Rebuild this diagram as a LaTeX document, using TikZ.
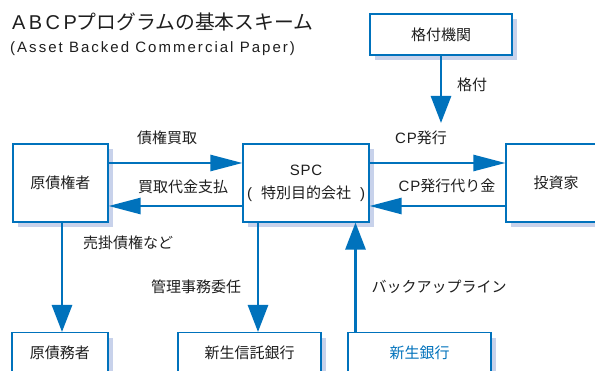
\documentclass[tikz,border=0pt]{standalone}
\usepackage{fontspec}
\setmainfont{Noto Sans CJK JP}
\newfontfamily\latA[LetterSpace=5]{Liberation Sans}
\newfontfamily\latT[LetterSpace=17]{Liberation Sans}
\newfontfamily\latS[LetterSpace=13.5]{Liberation Sans}
\usetikzlibrary{arrows.meta,shadows}
\definecolor{bl}{RGB}{0,114,188}
\definecolor{sh}{RGB}{200,210,235}
\definecolor{tx}{RGB}{30,30,30}
\begin{document}
\begin{tikzpicture}[x=1pt,y=-1pt,
 box/.style={draw=bl,line width=1.1pt,fill=white,inner sep=0pt,text=tx,font=\fontsize{15}{23}\selectfont,general shadow={fill=sh,shadow xshift=5pt,shadow yshift=-5pt}},
 lbl/.style={inner sep=0pt,text=tx,font=\fontsize{15}{18}\selectfont},
 harr/.style={draw=bl,line width=2.5pt,-{Triangle[length=32pt,width=16pt]}},
 varr/.style={draw=bl,line width=2.8pt,-{Triangle[length=27pt,width=20pt]}}]
\useasboundingbox (0,0) rectangle (595,371);
% title
\node[anchor=west,inner sep=0pt,text=tx,font=\fontsize{19.8}{22}\selectfont] (title) at (12,22) {{\fontsize{20}{22}\selectfont\latT ABCP}プログラムの基本スキーム};
\node[anchor=west,inner sep=0pt,text=tx,font=\fontsize{15}{18}\selectfont] (sub) at (10,49) {\latS (Asset Backed Commercial Paper)};
% boxes
\node[box,minimum width=142pt,minimum height=41pt] (rating) at (441,34.5) {格付機関};
\node[box,minimum width=95pt,minimum height=78pt] (orig) at (60.5,183) {原債権者};
\node[box,minimum width=126pt,minimum height=78pt,align=center] (spc) at (306,183) {{\latA SPC}\\{\latA (}\hspace{9pt}特別目的会社\hspace{9pt}{\latA )}};
\node[box,minimum width=100pt,minimum height=78pt] (inv) at (556,183) {投資家};
\node[box,minimum width=96pt,minimum height=60pt,anchor=north] (debt) at (60,332) {};
\node[lbl] (debtt) at (60,353) {原債務者};
\node[box,minimum width=143pt,minimum height=60pt,anchor=north] (trust) at (249.5,332) {};
\node[lbl] (trustt) at (249.5,353) {新生信託銀行};
\node[box,minimum width=143pt,minimum height=60pt,anchor=north] (bank) at (419.5,332) {};
\node[lbl,text=bl] (bankt) at (419.5,353) {新生銀行};
\coordinate (rtip) at (441,123);
% arrows
\draw[varr] (rating.south) -- (rtip);
\draw[harr] ([yshift=20pt]orig.east) -- ([yshift=20pt]orig.east -| spc.west);
\draw[harr] ([yshift=-23pt]spc.west) -- ([yshift=-23pt]spc.west -| orig.east);
\draw[harr] ([yshift=20pt]spc.east) -- ([yshift=20pt]spc.east -| inv.west);
\draw[harr] ([yshift=-23pt]inv.west) -- ([yshift=-23pt]inv.west -| spc.east);
\draw[varr] ([xshift=1.5pt]orig.south) -- ([xshift=1.5pt]orig.south |- debt.north);
\draw[varr] ([xshift=-48pt]spc.south) -- ([xshift=-48pt]spc.south |- trust.north);
\draw[varr] ([xshift=-64pt]bank.north) -- ([xshift=-64pt]bank.north |- spc.south);
% labels
\node[lbl] (l1) at (472,85) {格付};
\node[lbl] (l2) at (167,138) {債権買取};
\node[lbl] (l3) at (183,187) {買取代金支払};
\node[lbl] (l4) at (421,138) {{\latA CP}発行};
\node[lbl] (l5) at (447,186) {{\latA CP}発行代り金};
\node[lbl] (l6) at (128,243) {売掛債権など};
\node[lbl] (l7) at (196,287) {管理事務委任};
\node[lbl] (l8) at (439,287) {バックアップライン};
\end{tikzpicture}
\end{document}
